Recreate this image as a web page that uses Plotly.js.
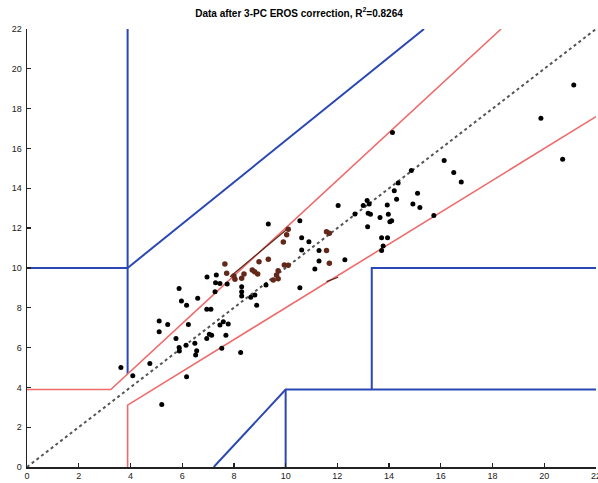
<!DOCTYPE html>
<html>
<head>
<meta charset="utf-8">
<script src="https://cdn.plot.ly/plotly-3.0.1.min.js"></script>
<style>html,body{margin:0;padding:0;background:#fff;}#chart{width:598px;height:483px;}</style>
</head>
<body>
<div id="chart"></div>
<script>
// Reference values (mmol/L), black measurement points
const blackX = [21.14,19.87,20.71,14.13,16.13,16.50,16.79,15.73,14.86,14.35,14.20,15.10,14.29,14.92,15.19,12.03,13.15,13.00,13.23,13.19,13.28,13.93,13.97,13.65,14.03,14.10,13.17,13.71,13.94,13.77,13.71,12.29,10.62,10.90,10.62,11.29,11.29,11.13,10.55,10.55,9.33,7.46,7.74,8.30,8.30,8.30,8.65,8.81,9.24,8.88,6.96,7.32,7.29,5.88,6.60,5.97,6.17,6.95,7.11,7.27,5.11,5.44,6.24,5.11,5.76,6.15,5.88,5.89,6.49,6.56,6.52,6.95,7.14,7.05,7.46,7.78,7.69,7.53,4.75,3.63,4.09,6.17,5.21,8.26,7.59,12.68];
const blackY = [19.19,17.52,15.46,16.80,15.39,14.79,14.32,12.63,14.89,14.26,13.88,13.75,13.45,13.21,13.03,13.13,13.38,13.13,13.21,12.75,12.70,13.16,12.70,12.53,12.32,12.37,12.07,11.52,11.52,11.10,10.87,10.41,11.52,11.32,10.90,10.87,10.35,9.94,9.00,12.37,12.21,9.22,9.19,9.05,8.80,8.59,8.52,8.64,9.14,8.13,9.54,9.64,9.26,8.97,8.47,8.34,8.13,7.92,7.92,8.80,7.33,7.16,7.16,6.79,6.46,6.12,6.00,5.83,6.21,5.84,5.62,6.46,6.62,6.67,7.13,7.18,6.62,5.96,5.20,5.00,4.58,4.53,3.14,5.75,7.29,12.71];
// Brown points
const brownX = [7.65,7.72,8.00,8.04,8.30,8.39,8.71,8.80,8.92,8.97,9.33,9.95,10.10,9.71,9.65,9.52,9.71,10.10,10.04,9.91,11.58,11.69,11.58,11.69];
const brownY = [10.20,9.73,9.59,9.43,9.48,9.69,9.89,9.81,9.69,10.31,10.43,10.15,10.13,9.86,9.64,9.39,9.46,11.94,11.66,11.30,11.82,11.74,10.87,10.23];
// Brown line segments seen on the chart
const brownLineX = [7.85,10.10,null,11.58,12.03];
const brownLineY = [9.56,11.99,null,9.31,9.53];
// Error grid boundaries
const blueX = [3.89,3.89,null,0,3.89,null,3.89,15.35,null,7.22,10,22.5,null,10,10,null,13.33,13.33,22.5];
const blueY = [4.67,22,null,10,10,null,10,22,null,0,3.89,3.89,null,0,3.89,null,3.89,10,10];
const redX = [0,3.24,18.33,null,3.89,3.89,22.5];
const redY = [3.89,3.89,22,null,0,3.11,18];
const identX = [0,22.5];
const identY = [0,22.5];
const tickVals = [0,2,4,6,8,10,12,14,16,18,20,22];
const tickText = ['0','2','4','6','8','10','12','14','16','18','20','22'];
const titleText = 'Data after 3-PC EROS correction, R<sup>2</sup>=0.8264';

const traces = [
  {x: identX, y: identY, mode:'lines', line:{color:'#555', width:2, dash:'dot'}, hoverinfo:'skip'},
  {x: blueX, y: blueY, mode:'lines', line:{color:'#2a48b4', width:2}, connectgaps:false},
  {x: redX, y: redY, mode:'lines', line:{color:'#ef6b6b', width:1.6}, connectgaps:false},
  {x: brownLineX, y: brownLineY, mode:'lines', line:{color:'#5a261a', width:1.2}, connectgaps:false},
  {x: blackX, y: blackY, mode:'markers', marker:{color:'#000', size:5}},
  {x: brownX, y: brownY, mode:'markers', marker:{color:'#62281a', size:5.5}}
];
const axisCommon = {
  range:[0,22], tickvals: tickVals, ticktext: tickText, ticks:'inside', ticklen:4, tickwidth:1.2,
  tickcolor:'#222', showgrid:false, zeroline:false, showline:true, linecolor:'#222', linewidth:1.5,
  tickfont:{family:'Arial, Liberation Sans, sans-serif', size:9, color:'#222'}, automargin:false, mirror:false,
  ticklabeloverflow:'allow'
};
const layout = {
  width:598, height:483, showlegend:false,
  margin:{l:27, r:2, t:29, b:16},
  paper_bgcolor:'#fff', plot_bgcolor:'#fff',
  title:{text:titleText, x:0.5, xanchor:'center', y:0.973, yanchor:'middle', yref:'container',
         font:{family:'Arial, Liberation Sans, sans-serif', size:10, color:'#000', weight:'bold'}},
  xaxis: Object.assign({}, axisCommon, {ticklabelstandoff:0}),
  yaxis: Object.assign({}, axisCommon, {ticklabelstandoff:2})
};
Plotly.newPlot('chart', traces, layout, {displayModeBar:false, staticPlot:true});
</script>
</body>
</html>
